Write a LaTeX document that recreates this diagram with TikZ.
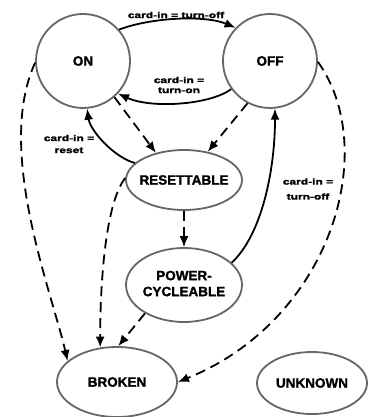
\documentclass[tikz,border=0pt]{standalone}
\usepackage{fontspec}
\setmainfont{Liberation Sans}[BoldFeatures={FakeBold=1.5}]
\usepackage{graphicx}
\usetikzlibrary{arrows.meta,shapes.geometric}
\definecolor{nodegray}{HTML}{666666}
\newcommand{\sqz}[1]{\scalebox{1}[0.72]{#1}}
\begin{document}
\begin{tikzpicture}[x=1pt,y=-1pt,
  state/.style={draw=nodegray, line width=1.8pt, inner sep=0pt,
    font=\bfseries\fontsize{13.5}{16}\selectfont},
  stcirc/.style={state, circle, minimum size=94pt},
  stell/.style={state, ellipse},
  edge/.style={line width=1.8pt, -{Latex[length=11pt,width=9pt]}},
  dashedge/.style={edge, dash pattern=on 10pt off 6pt},
  lbl/.style={font=\bfseries\fontsize{12}{12}\selectfont, align=center, inner sep=0pt}]
\fill[white] (0,0) rectangle (367,417);
\useasboundingbox (0,0) rectangle (367,417);

\node[stcirc] (on) at (83,61) {ON};
\node[stcirc] (off) at (270,61) {OFF};
\node[stell, minimum width=116pt, minimum height=60pt] (res) at (184,180) {\makebox[0pt]{RESETTABLE}};
\node[stell, minimum width=116pt, minimum height=74pt] (pc) at (184,285)
  {\makebox[0pt]{\begin{tabular}{@{}c@{}}POWER-\\CYCLEABLE\end{tabular}}};
\node[stell, minimum width=120pt, minimum height=70pt] (broken) at (117,382) {\makebox[0pt]{BROKEN}};
\node[stell, minimum width=110pt, minimum height=62pt] (unknown) at (312,383) {\makebox[0pt]{UNKNOWN}};

% solid transitions
\draw[edge] (on.41) .. controls +(31.5,-12) and +(-31,-13) .. (off.136);
\draw[edge] (off.-144) .. controls +(-22,16) and +(33,15) .. (on.-43);
\draw[edge] (res.161) .. controls +(-21,-6) and +(3,22) .. (on.-85);
\draw[edge] (pc.25) .. controls +(30,-28) and +(0,62) .. (off.-84);

% dashed transitions
\draw[dashedge] (on.-49) -- (res.136);
\draw[dashedge] (off.242) -- (res.50);
\draw[dashedge] (res.south) -- (pc.north);
\draw[dashedge] (on.182) .. controls +(-40,87) and +(-16,-70) .. (broken.157);
\draw[dashedge] (res.178) .. controls +(-21,27) and +(0,-57) .. (broken.116);
\draw[dashedge] (pc.216) -- (broken.88);
\draw[dashedge] (off.-1) .. controls +(63,88) and +(153,-62) .. (broken.east);

% labels
\node[lbl] (l1) at (176,15) {\sqz{card-in = turn-off}};
\node[lbl] (l2) at (179,85) {\sqz{card-in =}\\[-2pt]\sqz{turn-on}};
\node[lbl] (l3) at (69,144) {\sqz{card-in =}\\[0pt]\sqz{reset}};
\node[lbl] (l4) at (308,189) {\sqz{card-in =}\\[3pt]\sqz{turn-off}};
\end{tikzpicture}
\end{document}
